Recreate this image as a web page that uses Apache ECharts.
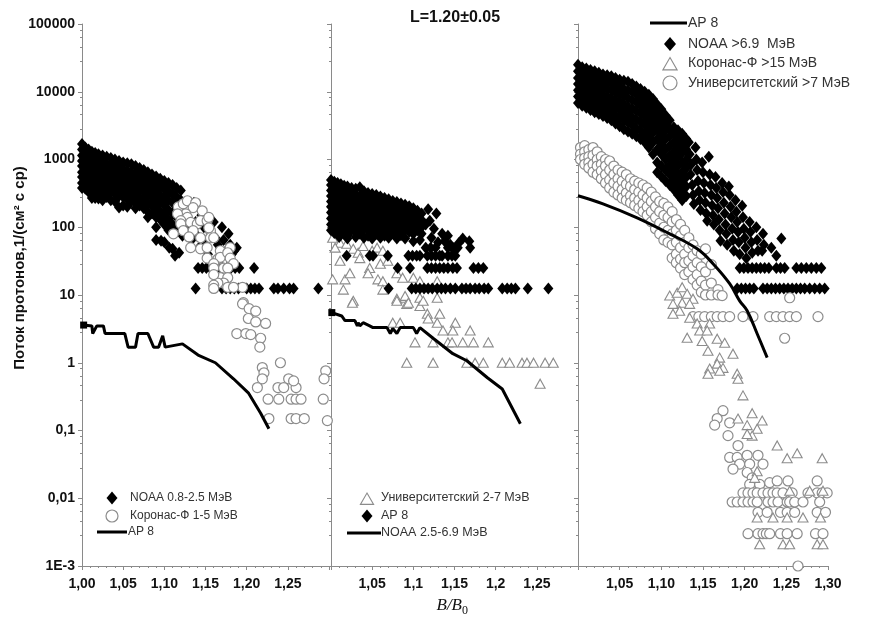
<!DOCTYPE html>
<html><head><meta charset="utf-8">
<script src="https://cdn.jsdelivr.net/npm/echarts@6/dist/echarts.min.js"></script>
<style>html,body{margin:0;padding:0;background:#fff}#c{width:877px;height:619px}</style>
</head><body><div id="c"></div>
<script>
// ---------- tick labels ----------
const yTickLabels = ['1E-3','0,01','0,1','1','10','100','1000','10000','100000'];
const xTickLabels1 = ['1,00','1,05','1,10','1,15','1,20','1,25',''];
const xTickLabels2 = ['','1,05','1,1','1,15','1,2','1,25',''];
const xTickLabels3 = ['','1,05','1,10','1,15','1,20','1,25','1,30'];

// ---------- panel 1 ----------
const noaa1Cols = [
 [1.000,[1700,1400,1150,950,800,650,550,450,380]],
 [1.004,[1500,1200,1000,820,680,560,460,370]],
 [1.008,[1400,1100,900,750,600,500,400,330]],
 [1.012,[1300,1050,850,700,560,450,360,270]],
 [1.016,[1250,1000,800,650,520,420,330,270]],
 [1.020,[1200,950,780,620,500,400,320,265]],
 [1.025,[1150,900,720,580,460,370,300,250]],
 [1.030,[1100,850,680,540,430,340,280]],
 [1.035,[1050,820,650,520,410,330,250]],
 [1.040,[1000,780,620,490,390,310,240]],
 [1.045,[950,750,600,470,370,290,195]],
 [1.050,[900,720,560,440,350,280,210]],
 [1.055,[880,680,540,420,330,260,200]],
 [1.060,[850,650,510,400,310,240]],
 [1.065,[800,620,480,380,290,230,190]],
 [1.070,[750,580,450,350,270,210]],
 [1.075,[700,540,420,330,250,190]],
 [1.080,[650,500,390,300,230,170,140]],
 [1.085,[600,470,360,280,210,160]],
 [1.090,[560,430,330,250,190,140,100]],
 [1.095,[520,400,300,230,170,130]],
 [1.100,[480,370,280,210,150,110]],
 [1.105,[450,340,250,180,130,90]],
 [1.110,[420,310,230,160,110]],
 [1.115,[380,280,200,140,95]],
 [1.120,[350,250,180,120]]
];
const noaa1Pts = [
 [1.090,65],[1.096,63],[1.100,60],[1.106,50],[1.110,48],[1.113,38],[1.118,42],[1.122,75],[1.125,160],
 [1.128,130],[1.130,95],[1.133,65],[1.136,230],[1.138,120],[1.140,75],[1.142,50],[1.145,150],[1.148,100],
 [1.150,60],[1.153,40],[1.156,85],[1.160,120],[1.162,70],[1.165,55],[1.168,38],[1.170,100],[1.172,65],
 [1.175,45],[1.178,80],[1.180,55],[1.182,40],[1.185,45],[1.188,50],
 [1.141,25],[1.146,25],[1.151,25],[1.156,25],[1.161,25],[1.166,25],[1.171,25],[1.176,25],[1.181,25],
 [1.186,25],[1.191,25],[1.209,25],
 [1.138,12.5],[1.170,12.5],[1.175,12.5],[1.180,12.5],[1.185,12.5],[1.190,12.5],[1.200,12.5],[1.205,12.5],
 [1.210,12.5],[1.215,12.5],[1.233,12.5],[1.238,12.5],[1.245,12.5],[1.252,12.5],[1.257,12.5],[1.287,12.5]
];
const koronas1 = [
 [1.117,200],[1.123,222],[1.128,246],[1.138,230],[1.135,195],[1.126,158],[1.116,158],[1.146,175],[1.128,140],
 [1.120,125],[1.120,112],[1.132,118],[1.140,112],[1.144,125],[1.152,125],[1.154,140],[1.123,89],[1.135,89],
 [1.156,89],[1.154,98],[1.111,80],[1.144,70],[1.156,70],[1.160,70],[1.130,72],[1.132,50],[1.144,48],
 [1.152,50],[1.168,45],[1.180,50],[1.152,35],[1.165,34],[1.168,36],[1.177,42],[1.180,35],[1.160,29],
 [1.184,29],[1.160,25],[1.172,25],[1.177,25],[1.168,18],[1.177,18],[1.172,15],[1.165,15],[1.160,14],
 [1.160,12.5],[1.177,13],[1.195,13],[1.184,13],[1.160,20],[1.196,7.7],
 [1.195,7.4],[1.203,6.3],[1.211,5.8],[1.202,4.5],[1.211,4.0],[1.223,3.8],[1.188,2.7],[1.199,2.7],[1.205,2.6],
 [1.217,2.3],[1.216,1.7],[1.241,1.0],[1.219,0.85],[1.221,0.71],[1.219,0.58],[1.213,0.43],[1.251,0.58],
 [1.238,0.43],[1.245,0.43],[1.260,0.43],[1.257,0.54],[1.226,0.29],[1.239,0.29],[1.254,0.29],[1.260,0.29],
 [1.266,0.29],[1.293,0.29],[1.227,0.15],[1.254,0.15],[1.260,0.15],[1.270,0.15],[1.296,0.76],[1.294,0.58],[1.298,0.14]
];
const ap8x1 = [1.002,1.012,1.013,1.018,1.026,1.028,1.052,1.056,1.065,1.068,1.080,1.087,1.093,1.098,1.101,1.122,1.141,1.162,1.184,1.202,1.217,1.227];
const ap8y1 = [3.6,3.5,2.7,3.5,3.5,2.7,2.7,1.7,1.7,2.7,2.7,1.7,1.7,2.5,1.7,1.9,1.3,1.0,0.58,0.36,0.18,0.106];

// ---------- panel 2 ----------
const noaa2Cols = [
 [1.000,[500,420,350,290,240,200,165,135,110,90]],
 [1.004,[470,390,320,270,220,180,150,120,100,82]],
 [1.008,[450,370,300,250,205,170,140,115,95]],
 [1.012,[430,350,290,240,195,160,130,105,85]],
 [1.016,[410,340,280,230,185,150,125,100,80]],
 [1.020,[400,330,270,220,180,145,118,95,75]],
 [1.025,[380,310,255,210,170,140,112,90]],
 [1.030,[370,300,245,200,160,130,105,85]],
 [1.035,[390,290,235,190,155,125,100,80]],
 [1.040,[340,280,225,180,145,118,95]],
 [1.045,[320,265,215,175,140,112,90,75]],
 [1.050,[310,255,205,165,135,108,85]],
 [1.055,[300,245,195,158,128,102,80]],
 [1.060,[285,235,188,150,122,98,78]],
 [1.065,[270,222,180,145,115,92,75]],
 [1.070,[260,212,172,138,110,88]],
 [1.075,[245,200,162,130,105,84]],
 [1.080,[235,190,155,125,100,80]],
 [1.085,[225,180,148,118,95,76]],
 [1.090,[215,172,140,112,90]],
 [1.095,[205,165,132,105,85]],
 [1.100,[190,155,125,100,80]],
 [1.105,[175,140,112,90]],
 [1.110,[160,128,100,80]]
];
const noaa2Pts = [
 [1.118,185],[1.115,110],[1.120,125],[1.122,70],[1.125,95],[1.130,60],[1.128,160],[1.135,80],[1.138,62],
 [1.142,75],[1.145,55],[1.150,45],[1.155,58],[1.160,68],[1.168,62],[1.108,65],[1.100,62],[1.090,68],
 [1.080,68],[1.070,70],[1.060,70],[1.050,68],[1.040,70],[1.030,72],[1.020,68],[1.010,72],
 [1.115,50],[1.121,50],[1.127,50],[1.142,50],[1.148,50],[1.154,50],[1.169,50],
 [1.019,38],[1.047,38],[1.051,38],[1.069,38],[1.094,38],[1.099,38],[1.104,38],[1.108,38],[1.117,38],
 [1.122,38],[1.127,38],[1.132,38],[1.135,38],[1.142,38],[1.147,38],[1.151,38],
 [1.081,25],[1.096,25],[1.117,25],[1.122,25],[1.127,25],[1.132,25],[1.137,25],[1.142,25],[1.148,25],
 [1.153,25],[1.173,25],[1.179,25],[1.185,25],
 [1.070,12.5],[1.098,12.5],[1.103,12.5],[1.108,12.5],[1.113,12.5],[1.118,12.5],[1.123,12.5],[1.129,12.5],
 [1.134,12.5],[1.139,12.5],[1.145,12.5],[1.151,12.5],[1.159,12.5],[1.164,12.5],[1.169,12.5],[1.175,12.5],
 [1.180,12.5],[1.186,12.5],[1.191,12.5],[1.208,12.5],[1.214,12.5],[1.219,12.5],[1.224,12.5],[1.239,12.5],[1.264,12.5]
];
const univ2 = [
 [1.002,70],[1.011,59],[1.005,50],[1.019,57],[1.027,48],[1.033,42],[1.039,53],[1.050,45],[1.056,50],[1.063,45],
 [1.035,35],[1.011,32],[1.060,29],[1.069,32],[1.047,25],[1.017,17],[1.002,17],[1.023,21],[1.045,21],[1.057,17],
 [1.063,16],[1.080,21],[1.087,18],[1.100,18],[1.108,16],[1.129,16],[1.015,12],[1.063,12],[1.027,8.2],[1.080,8.8],
 [1.090,9.1],[1.108,9.1],[1.129,9.1],[1.092,7.4],[1.108,6.9],[1.026,7.7],[1.080,8.2],[1.090,9.7],[1.094,7.7],
 [1.112,8.2],[1.117,5.3],[1.118,4.5],[1.132,5.3],[1.129,3.9],[1.151,3.9],[1.148,3.0],[1.075,3.9],[1.084,3.9],
 [1.136,3.0],[1.169,3.0],[1.102,2.0],[1.124,2.0],[1.142,2.0],[1.147,2.0],[1.160,2.0],[1.173,2.0],[1.191,2.0],
 [1.092,1.0],[1.124,1.0],[1.165,1.0],[1.175,1.0],[1.185,1.0],[1.208,1.0],[1.217,1.0],[1.232,1.0],[1.238,1.0],
 [1.246,1.0],[1.260,1.0],[1.270,1.0],[1.254,0.49]
];
const ap8x2 = [1.001,1.013,1.017,1.029,1.032,1.033,1.035,1.039,1.047,1.051,1.068,1.072,1.075,1.080,1.084,1.100,1.104,1.108,1.124,1.148,1.165,1.190,1.208,1.230];
const ap8y2 = [5.5,4.9,4.2,4.2,3.5,3.9,3.5,3.9,3.5,3.3,3.3,2.7,3.2,2.7,3.3,3.3,2.7,3.3,2.3,1.36,1.07,0.6,0.41,0.126];

// ---------- panel 3 ----------
const noaa3Cols = [
 [1.000,[25000,20000,16000,13000,10500,8500,6800]],
 [1.005,[23000,18500,15000,12000,9500,7700,6200]],
 [1.010,[22000,17500,14000,11000,9000,7200,5800]],
 [1.015,[21000,16500,13000,10500,8400,6700,5400]],
 [1.020,[20000,16000,12500,10000,8000,6300,5000]],
 [1.025,[19000,15000,12000,9500,7500,6000,4700]],
 [1.030,[18000,14500,11500,9000,7000,5500,4400]],
 [1.035,[17500,14000,11000,8500,6600,5100,4100]],
 [1.040,[17000,13500,10500,8000,6200,4800,3800]],
 [1.045,[16000,12500,9800,7500,5800,4400,3400]],
 [1.050,[15000,12000,9200,7000,5400,4100,3100]],
 [1.055,[14500,11000,8600,6500,5000,3800,2800]],
 [1.060,[14000,10500,8000,6000,4600,3500,2600]],
 [1.065,[13000,10000,7500,5600,4200,3200,2400]],
 [1.070,[12000,9200,7000,5200,3900,2900,2200]],
 [1.075,[11000,8400,6400,4800,3600,2700,2000]],
 [1.080,[10000,7600,5800,4400,3300,2400,1800]],
 [1.085,[9000,6800,5200,3900,2900,2100,1500]],
 [1.090,[7800,6000,4600,3400,2500,1800,1200]],
 [1.095,[6500,5000,3800,2800,2000,1400,900,650]],
 [1.100,[5500,4200,3200,2300,1700,1200,800,560]],
 [1.105,[4500,3500,2700,2000,1400,1000,700,480]],
 [1.110,[3800,2900,2200,1600,1150,820,600,420]],
 [1.115,[3000,2400,1800,1300,950,700,500,360]],
 [1.120,[2700,2000,1500,1100,800,580,420,300]],
 [1.125,[2400,1700,1250,900,650,480,350,250]],
 [1.130,[2000,1400,1000,750,550,400,290]]
];
const noaa3Pts = [
 [1.133,1800],[1.134,1200],[1.136,850],[1.135,600],[1.137,420],[1.138,300],[1.139,220],
 [1.141,1500],[1.142,1000],[1.143,700],[1.144,480],[1.145,340],[1.146,250],[1.147,180],
 [1.149,900],[1.150,650],[1.151,450],[1.152,320],[1.153,230],[1.154,160],[1.155,125],
 [1.157,1100],[1.158,600],[1.159,420],[1.160,300],[1.161,210],[1.162,150],[1.163,110],
 [1.165,550],[1.166,380],[1.167,270],[1.168,190],[1.169,130],[1.170,90],[1.171,63],
 [1.173,450],[1.174,330],[1.175,230],[1.176,160],[1.177,110],[1.178,80],[1.179,55],
 [1.181,400],[1.182,300],[1.183,200],[1.184,140],[1.185,95],[1.186,65],[1.187,45],
 [1.189,250],[1.190,170],[1.191,120],[1.192,85],[1.193,60],[1.194,40],
 [1.197,208],[1.198,140],[1.199,95],[1.200,70],[1.201,50],[1.202,35],
 [1.206,120],[1.207,85],[1.208,60],[1.209,42],
 [1.214,100],[1.215,65],[1.216,45],[1.221,45],[1.222,80],[1.223,55],[1.232,50],[1.238,38],[1.244,68],
 [1.194,25],[1.199,25],[1.204,25],[1.209,25],[1.214,25],[1.219,25],[1.224,25],[1.229,25],[1.238,25],
 [1.243,25],[1.248,25],[1.262,25],[1.268,25],[1.274,25],[1.280,25],[1.286,25],[1.292,25],
 [1.191,12.5],[1.196,12.5],[1.201,12.5],[1.206,12.5],[1.211,12.5],[1.222,12.5],[1.227,12.5],[1.232,12.5],
 [1.237,12.5],[1.242,12.5],[1.247,12.5],[1.252,12.5],[1.257,12.5],[1.262,12.5],[1.267,12.5],[1.272,12.5],
 [1.278,12.5],[1.284,12.5],[1.290,12.5],[1.296,12.5]
];
const univ3Cols = [
 [1.003,[1500,1200,1000]],
 [1.008,[1600,1300,1050,850]],
 [1.013,[1400,1100,900,750]],
 [1.018,[1500,1150,850,650]],
 [1.023,[1300,1000,800,600]],
 [1.028,[1100,850,680,520]],
 [1.033,[1000,800,600,450]],
 [1.038,[950,700,500,380]],
 [1.043,[800,600,450,330]],
 [1.048,[700,520,400,300]],
 [1.053,[650,480,360,270]],
 [1.058,[600,430,320,250]],
 [1.063,[520,400,290,230]],
 [1.068,[480,360,270,210]],
 [1.073,[450,330,250,190]],
 [1.078,[420,300,220,170]],
 [1.083,[380,270,200,150]],
 [1.088,[330,240,170,120]],
 [1.093,[280,200,140,95]],
 [1.098,[240,170,115,80]],
 [1.103,[225,150,100,65]],
 [1.108,[200,140,90,60]],
 [1.113,[170,120,80,55,35]],
 [1.118,[130,90,60,40,30]],
 [1.123,[110,75,50,34,25]],
 [1.128,[90,60,40,30,20]],
 [1.133,[70,50,32,22]],
 [1.138,[55,38,26,17]],
 [1.143,[45,30,20,14]],
 [1.148,[40,26,16,11]],
 [1.153,[48,22,14,10]],
 [1.160,[28,15,10]],
 [1.168,[12,10]]
];
const univ3Pts = [
 [1.173,9.8],[1.254,9.1],[1.248,2.3],
 [1.138,4.8],[1.145,4.8],[1.152,4.8],[1.160,4.8],[1.167,4.8],[1.174,4.8],[1.182,4.8],[1.198,4.8],[1.210,4.8],
 [1.230,4.8],[1.238,4.8],[1.246,4.8],[1.254,4.8],[1.262,4.8],[1.288,4.8],
 [1.174,0.196],[1.167,0.15],[1.164,0.12],[1.182,0.13],[1.180,0.084],[1.192,0.060],[1.182,0.040],[1.191,0.040],
 [1.203,0.043],[1.216,0.043],[1.194,0.032],[1.206,0.032],[1.222,0.032],[1.186,0.027],[1.203,0.024],[1.209,0.020],
 [1.206,0.016],[1.218,0.016],[1.230,0.017],[1.239,0.018],[1.252,0.018],[1.287,0.018],
 [1.198,0.012],[1.204,0.012],[1.210,0.012],[1.215,0.012],[1.222,0.012],[1.228,0.012],[1.234,0.012],[1.239,0.012],
 [1.246,0.012],[1.257,0.012],[1.276,0.012],[1.287,0.012],[1.293,0.012],[1.299,0.012],
 [1.185,0.0088],[1.191,0.0088],[1.198,0.0088],[1.204,0.0088],[1.210,0.0088],[1.215,0.0088],[1.228,0.0088],
 [1.234,0.0088],[1.240,0.0088],[1.251,0.0088],[1.254,0.0088],[1.260,0.0088],[1.270,0.0088],[1.290,0.0088],
 [1.216,0.0062],[1.227,0.0062],[1.243,0.0062],[1.251,0.0062],[1.260,0.0062],[1.287,0.0062],[1.297,0.0062],
 [1.204,0.003],[1.216,0.003],[1.222,0.003],[1.226,0.003],[1.230,0.003],[1.243,0.003],[1.251,0.003],[1.263,0.003],
 [1.285,0.003],[1.294,0.003],[1.264,0.001]
];
const koronas3 = [
 [1.110,9.8],[1.119,10.8],[1.125,13],[1.131,10.4],[1.138,8.8],[1.114,7.4],[1.125,7.7],[1.134,7.4],[1.122,5.85],
 [1.114,5.3],[1.134,4.6],[1.143,3.8],[1.158,3.8],[1.146,3.0],[1.131,2.34],[1.155,3.0],[1.149,2.1],[1.167,2.26],
 [1.176,1.97],[1.156,1.5],[1.186,1.36],[1.170,1.19],[1.167,0.97],[1.174,0.84],[1.158,0.82],[1.170,0.76],
 [1.156,0.69],[1.191,0.69],[1.192,0.58],[1.198,0.33],[1.209,0.18],[1.221,0.14],[1.192,0.15],[1.203,0.12],
 [1.215,0.106],[1.209,0.084],[1.203,0.089],[1.239,0.060],[1.251,0.039],[1.263,0.046],[1.293,0.039],
 [1.215,0.025],[1.212,0.020],[1.254,0.0129],[1.278,0.0129],[1.294,0.0129],
 [1.215,0.0052],[1.234,0.0052],[1.251,0.0052],[1.270,0.0052],[1.291,0.0052],
 [1.218,0.0021],[1.246,0.0021],[1.254,0.0021],[1.287,0.0021],[1.294,0.0021]
];
const ap8x3 = [1.000,1.030,1.071,1.110,1.143,1.162,1.182,1.194,1.203,1.215,1.227];
const ap8y3 = [292,222,138,80,48,29,14.7,8.2,5.85,2.68,1.19];

// ---------- build ----------
const FONT = 'Arial, "Liberation Sans", sans-serif';
function expand(cols){ const out=[]; cols.forEach(c=>c[1].forEach(v=>out.push([c[0],v]))); return out; }
function zip(xs,ys){ return xs.map((x,i)=>[x,ys[i]]); }
const grids = [
 {left:82, top:24, width:247, height:542},
 {left:331, top:24, width:247, height:542},
 {left:578, top:24, width:250, height:542}
];
const xLabelSets = [xTickLabels1, xTickLabels2, xTickLabels3];
const axisGray = '#8a8a8a';
const xAxes = grids.map((g,i)=>({
 type:'value', gridIndex:i, min:1.0, max:1.3, interval:0.05,
 axisLine:{show:true, lineStyle:{color:axisGray}},
 axisTick:{show:true, length:4, lineStyle:{color:axisGray}},
 minorTick:{show:true, splitNumber:5, length:2, lineStyle:{color:axisGray}},
 splitLine:{show:false},
 axisLabel:{margin:11, color:'#111', fontWeight:'bold', fontSize:14, fontFamily:FONT,
   formatter:v=>xLabelSets[i][Math.round((v-1)/0.05)] || ''}
}));
const yAxes = grids.map((g,i)=>({
 type:'log', logBase:10, gridIndex:i, min:0.001, max:100000, splitNumber:8,
 axisLine:{show:true, onZero:false, lineStyle:{color:axisGray}},
 axisTick:{show:true, length:4, lineStyle:{color:axisGray}},
 minorTick:{show:true, splitNumber:5, length:2, lineStyle:{color:axisGray}},
 splitLine:{show:false},
 axisLabel:{show:i===0, margin:7, color:'#111', fontWeight:'bold', fontSize:14, fontFamily:FONT,
   formatter:v=>yTickLabels[Math.round(Math.log10(v))+3] || ''}
}));
const diamond = (gi,data)=>({type:'scatter', xAxisIndex:gi, yAxisIndex:gi, data, symbol:'diamond', symbolSize:[10,12],
  itemStyle:{color:'#000', opacity:1}, z:2});
const circle = (gi,data)=>({type:'scatter', xAxisIndex:gi, yAxisIndex:gi, data, symbol:'circle', symbolSize:10,
  itemStyle:{color:'#fff', borderColor:'#8c8c8c', borderWidth:1.2, opacity:1}, z:3});
const tri = (gi,data,z)=>({type:'scatter', xAxisIndex:gi, yAxisIndex:gi, data, symbol:'triangle', symbolSize:[10,9],
  itemStyle:{color:'#fff', borderColor:'#8c8c8c', borderWidth:1.1, opacity:1}, z:z});
const line = (gi,data,smooth,startMark)=>({type:'line', xAxisIndex:gi, yAxisIndex:gi, smooth, symbol:'none',
  data: data.map((p,k)=> (k===0 && startMark) ? {value:p, symbol:'rect', symbolSize:7, itemStyle:{color:'#000'}} : p),
  lineStyle:{color:'#000', width:3}, z:5});

const series = [
 diamond(0, expand(noaa1Cols).concat(noaa1Pts)),
 circle(0, koronas1),
 line(0, zip(ap8x1,ap8y1), false, true),
 tri(1, univ2, 1),
 diamond(1, expand(noaa2Cols).concat(noaa2Pts)),
 line(1, zip(ap8x2,ap8y2), false, true),
 diamond(2, expand(noaa3Cols).concat(noaa3Pts)),
 circle(2, expand(univ3Cols).concat(univ3Pts)),
 tri(2, koronas3, 4),
 line(2, zip(ap8x3,ap8y3), 0.4, false)
];

const T = (x,y,text,size,extra)=>Object.assign({type:'text', x, y, style:Object.assign({text, fill:'#333', font:(size||12)+'px '+FONT, textVerticalAlign:'middle', verticalAlign:'middle'}, extra||{})});
const D = (cx,cy,w,h)=>({type:'polygon', shape:{points:[[cx,cy-h],[cx+w,cy],[cx,cy+h],[cx-w,cy]]}, style:{fill:'#000'}});
const C = (cx,cy,r)=>({type:'circle', shape:{cx,cy,r}, style:{fill:'#fff', stroke:'#8c8c8c', lineWidth:1.2}});
const TR = (cx,cy,s)=>({type:'polygon', shape:{points:[[cx,cy-s],[cx+s*1.1,cy+s*0.9],[cx-s*1.1,cy+s*0.9]]}, style:{fill:'#fff', stroke:'#8c8c8c', lineWidth:1.1}});
const L = (x1,x2,y)=>({type:'line', shape:{x1,y1:y,x2,y2:y}, style:{stroke:'#000', lineWidth:3}});

const graphic = [
 // title
 {type:'text', x:455, y:18, style:{text:'L=1.20±0.05', fill:'#111', font:'bold 16px '+FONT, textAlign:'center', textVerticalAlign:'middle', align:'center', verticalAlign:'middle'}},
 // y name
 {type:'text', x:20, y:268, rotation:Math.PI/2, style:{text:'Поток протонов,1/(см² с ср)', fill:'#111', font:'bold 15px '+FONT, textAlign:'center', align:'center', textVerticalAlign:'middle', verticalAlign:'middle'}},
 // x name
 {type:'text', x:462, y:606, style:{text:'B/B', fill:'#111', font:'italic 17px "Liberation Serif", "Times New Roman", serif', textAlign:'right', align:'right', textVerticalAlign:'middle', verticalAlign:'middle'}},
 {type:'text', x:462, y:611, style:{text:'0', fill:'#111', font:'12px "Liberation Serif", "Times New Roman", serif', textAlign:'left', align:'left', textVerticalAlign:'middle', verticalAlign:'middle'}},
 // legend panel 1
 D(112,498,5.5,6.5), T(130,498,'NOAA 0.8-2.5 МэВ',12),
 C(112,516,6), T(130,516,'Коронас-Ф 1-5 МэВ',12),
 L(97,127,532), T(128,532,'AP 8',12),
 // legend panel 2
 TR(367,499,6), T(381,498,'Университетский 2-7 МэВ',12.5),
 D(367,516,5.5,6.5), T(381,516,'AP 8',12.5),
 L(347,381,533), T(381,533,'NOAA 2.5-6.9 МэВ',12.5),
 // legend panel 3
 L(650,687,23), T(688,23,'AP 8',14),
 D(670,44,6,7), T(688,44,'NOAA >6.9  МэВ',14),
 TR(670,64,6.5), T(688,63,'Коронас-Ф >15 МэВ',14),
 C(670,83,7), T(688,83,'Университетский >7 МэВ',14)
];

const chart = echarts.init(document.getElementById('c'), null, {renderer:'canvas'});
chart.setOption({
 animation:false, backgroundColor:'#fff',
 grid:grids, xAxis:xAxes, yAxis:yAxes, series, graphic
});
</script></body></html>
